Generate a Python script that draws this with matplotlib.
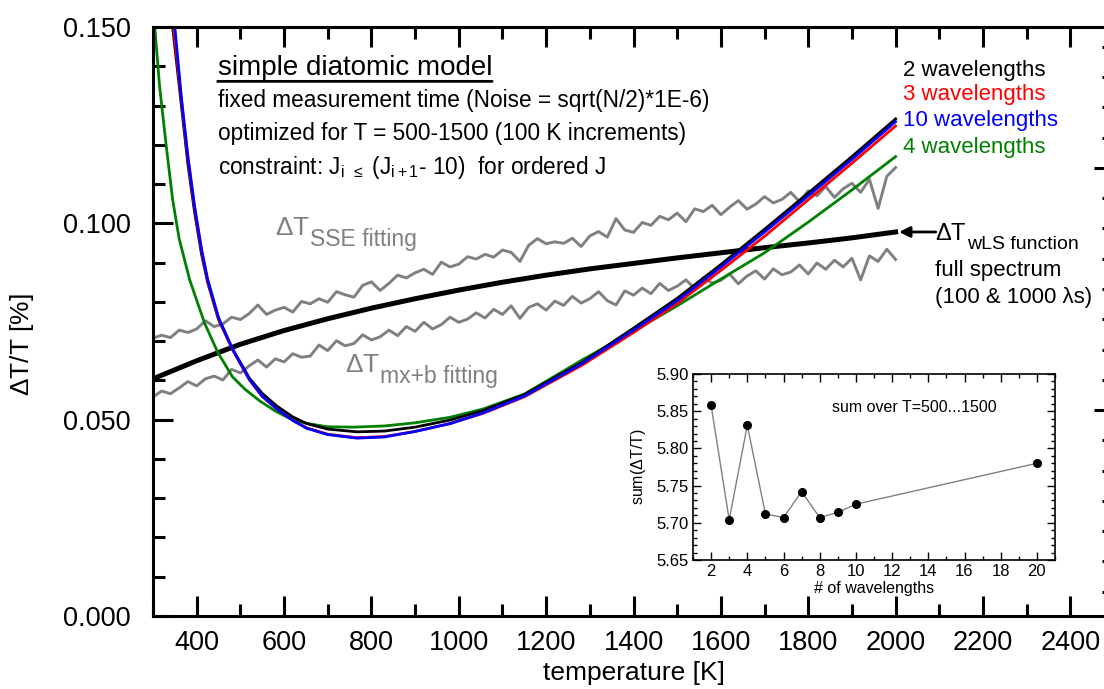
import numpy as np
import matplotlib
matplotlib.use("Agg")
from matplotlib import pyplot as plt
from matplotlib.ticker import MultipleLocator, FormatStrFormatter

plt.rcParams['font.family'] = ['Liberation Sans', 'DejaVu Sans']
plt.rcParams['mathtext.fontset'] = 'custom'
plt.rcParams['mathtext.rm'] = 'Liberation Sans'
plt.rcParams['mathtext.it'] = 'Liberation Sans:italic'

# =============================================================================
# data
# =============================================================================
T_blue = [350, 365, 380, 395, 411, 425, 450, 482, 521, 550, 583, 620, 652, 700, 767,
          830, 900, 980, 1055, 1150, 1284, 1400, 1500, 1600, 1700, 1800, 1900, 2000]
dT_10wl = [.1500, .1320, .1170, .1045, .0935, .0858, .0760, .0680, .0602, .0560, .0528,
           .0498, .0478, .0462, .0453, .0456, .0470, .0490, .0517, .0560, .0644, .0728,
           .0803, .0889, .0978, .1070, .1163, .1259]

T_red = [347, 365, 380, 395, 411, 425, 450, 482, 521, 550, 583, 620, 652, 700, 767,
         830, 900, 980, 1055, 1150, 1284, 1400, 1500, 1600, 1700, 1800, 1900, 2000]
dT_3wl = [.1500, .1312, .1163, .1040, .0930, .0854, .0757, .0678, .0601, .0559, .0528,
          .0498, .0479, .0463, .0454, .0457, .0470, .0490, .0516, .0558, .0640, .0722,
          .0796, .0880, .0967, .1060, .1153, .1248]

T_black = [345, 365, 380, 395, 411, 425, 450, 482, 521, 550, 583, 620, 652, 700, 767,
           830, 900, 980, 1055, 1150, 1284, 1400, 1500, 1600, 1700, 1800, 1900, 2000]
dT_2wl = [.1500, .1300, .1150, .1030, .0922, .0850, .0755, .0680, .0605, .0567, .0535,
          .0507, .0490, .0476, .0469, .0471, .0481, .0499, .0523, .0564, .0647, .0733,
          .0809, .0895, .0985, .1077, .1170, .1266]

T_green = [304, 315, 330, 345, 360, 384, 418, 448, 482, 510, 544, 580, 613, 650, 698,
           760, 830, 900, 980, 1055, 1150, 1284, 1400, 1500, 1600, 1700, 1800, 1900, 2000]
dT_4wl = [.1500, .1350, .1200, .1060, .0960, .0856, .0746, .0672, .0609, .0578, .0548,
          .0522, .0503, .0491, .0482, .0481, .0484, .0492, .0506, .0527, .0565, .0653,
          .0725, .0790, .0858, .0925, .1003, .1085, .1170]

T_wls = [300, 400, 500, 600, 700, 800, 900, 1000, 1100, 1200, 1300, 1400, 1500,
         1600, 1700, 1800, 1900, 2000]
dT_wls = [.0604, .0650, .0692, .0727, .0757, .0784, .0808, .0830, .0850, .0868, .0884,
          .0898, .0912, .0925, .0938, .0950, .0963, .0978]

T_fit = np.arange(300, 2001, 20)
dT_sse = [.0708, .0715, .0709, .0728, .0722, .0731, .0752, .0737, .0744, .0761,
          .0755, .0770, .0792, .0768, .0779, .0786, .0774, .0801, .0795, .0808,
          .0799, .0826, .0818, .0812, .0842, .0851, .0829, .0847, .0868, .0861,
          .0874, .0883, .0870, .0901, .0889, .0896, .0915, .0909, .0921, .0914,
          .0932, .0926, .0903, .0944, .0961, .0948, .0953, .0949, .0962, .0941,
          .0968, .0979, .0965, .1012, .0983, .0977, .1002, .0995, .1018, .1009,
          .1026, .1004, .1037, .1030, .1046, .1022, .1041, .1058, .1036, .1049,
          .1068, .1052, .1061, .1079, .1055, .1083, .1070, .1094, .1066, .1088,
          .1102, .1079, .1112, .1038, .1120, .1142]
dT_mxb = [.0558, .0573, .0566, .0581, .0597, .0586, .0604, .0611, .0601, .0628,
          .0619, .0637, .0652, .0634, .0655, .0647, .0668, .0659, .0662, .0690,
          .0676, .0701, .0688, .0694, .0716, .0703, .0711, .0728, .0714, .0737,
          .0725, .0748, .0731, .0742, .0761, .0748, .0756, .0772, .0759, .0781,
          .0768, .0790, .0758, .0786, .0795, .0779, .0802, .0791, .0814, .0797,
          .0808, .0826, .0803, .0792, .0828, .0817, .0835, .0821, .0847, .0829,
          .0840, .0856, .0834, .0862, .0848, .0855, .0871, .0846, .0866, .0879,
          .0858, .0884, .0869, .0876, .0894, .0871, .0899, .0883, .0906, .0889,
          .0911, .0856, .0917, .0903, .0934, .0908]

# inset: sum over T
n_wl = [2, 3, 4, 5, 6, 7, 8, 9, 10, 20]
sum_dT = [5.858, 5.704, 5.831, 5.712, 5.707, 5.742, 5.707, 5.714, 5.725, 5.780]

# =============================================================================
# main plot
# =============================================================================
W, H = 1104, 689
fig = plt.figure(figsize=(W / 100, H / 100), dpi=100)
ax = fig.add_axes([153 / W, 1 - 616 / H, (1114 - 153) / W, (616 - 27) / H])

ax.plot(T_fit, dT_sse, color='#808080', lw=2.1)
ax.plot(T_fit, dT_mxb, color='#808080', lw=2.1)
ax.plot(T_wls, dT_wls, color='k', lw=3.6)
ax.plot(T_green, dT_4wl, color='#008000', lw=2.0)
ax.plot(T_black, dT_2wl, color='k', lw=2.0)
ax.plot(T_red, dT_3wl, color='#ff0000', lw=2.0)
ax.plot(T_blue, dT_10wl, color='#0000ff', lw=2.0)

ax.set_xlim(300, 2500)
ax.set_ylim(0, 0.150)
ax.xaxis.set_major_locator(MultipleLocator(200))
ax.xaxis.set_minor_locator(MultipleLocator(100))
ax.yaxis.set_major_locator(MultipleLocator(0.05))
ax.yaxis.set_minor_locator(MultipleLocator(0.01))
ax.yaxis.set_major_formatter(FormatStrFormatter('%.3f'))
ax.tick_params(which='both', direction='in', width=2.2, top=True, right=False,
               labelsize=19.5)
ax.tick_params(axis='y', pad=16)
ax.tick_params(axis='x', pad=10)
ax.tick_params(which='major', length=14.5)
ax.tick_params(which='minor', length=8.5)
for s in ax.spines.values():
    s.set_linewidth(2.2)

ax.set_xlabel('temperature [K]', fontsize=19, labelpad=4)
ax.set_ylabel(r'$\Delta$T/T [%]', fontsize=19)
ax.yaxis.set_label_coords(-0.122, 0.46)

# right hand axis (labels are off the canvas)
tw = ax.twinx()
tw.set_ylim(0.1488, 2.5826)
tw.yaxis.set_major_locator(MultipleLocator(1))
tw.yaxis.set_minor_locator(MultipleLocator(0.125))
tw.tick_params(which='both', direction='in', width=2.2, labelright=False)
tw.tick_params(which='major', length=14.5)
tw.tick_params(which='minor', length=8.5)

# texts
t = ax.text(448, 0.1396, 'simple diatomic model', fontsize=20, va='center')
ax.annotate('', xy=(0, -0.02), xytext=(1, -0.02), xycoords=t, textcoords=t,
            arrowprops=dict(arrowstyle='-', lw=2, color='k', shrinkA=0, shrinkB=0))
ax.text(448, 0.1312, 'fixed measurement time (Noise = sqrt(N/2)*1E-6)', fontsize=16.3, va='center')
ax.text(448, 0.1228, 'optimized for T = 500-1500 (100 K increments)', fontsize=16.3, va='center')
ax.text(448, 0.1141, r'constraint: J$_{\mathregular{i}}$ $_{\leq}$ (J$_{\mathregular{i+1}}$- 10)  for ordered J',
        fontsize=16.3, va='center')


def sub_label(x, y, main, sub, color, size=19, subsize=16.5):
    m = ax.text(x, y, main, fontsize=size, color=color, va='center')
    ax.annotate(sub, xy=(1.0, 0.02), xycoords=m, fontsize=subsize, color=color,
                va='center', ha='left')
    return m


sub_label(579, 0.0988, r'$\Delta$T', 'SSE fitting', '#808080')
sub_label(739, 0.0639, r'$\Delta$T', 'mx+b fitting', '#808080')
sub_label(2090, 0.0972, r'$\Delta$T', 'wLS function', 'k', size=17, subsize=14)
ax.text(2090, 0.0881, 'full spectrum', fontsize=16, va='center')
ax.text(2090, 0.0810, '(100 & 1000 λs)', fontsize=16, va='center')
ax.annotate('', xy=(2008, 0.0978), xytext=(2092, 0.0978),
            arrowprops=dict(arrowstyle='-|>', color='k', lw=2, mutation_scale=16,
                            shrinkA=0, shrinkB=0))

ax.text(2017, 0.1390, '2 wavelengths', fontsize=16, color='k', va='center')
ax.text(2017, 0.1327, '3 wavelengths', fontsize=16, color='#ff0000', va='center')
ax.text(2017, 0.1263, '10 wavelengths', fontsize=16, color='#0000ff', va='center')
ax.text(2017, 0.1194, '4 wavelengths', fontsize=16, color='#008000', va='center')

# =============================================================================
# inset
# =============================================================================
ins = fig.add_axes([693 / W, 1 - 560 / H, (1055 - 693) / W, (560 - 374) / H])
ins.plot(n_wl, sum_dT, color='#808080', lw=1, marker='o', ms=5.5,
         mfc='k', mec='k')
ins.set_xlim(1, 21)
ins.set_ylim(5.65, 5.90)
ins.xaxis.set_major_locator(MultipleLocator(2))
ins.xaxis.set_minor_locator(MultipleLocator(1))
ins.yaxis.set_major_locator(MultipleLocator(0.05))
ins.yaxis.set_minor_locator(MultipleLocator(0.01))
ins.yaxis.set_major_formatter(FormatStrFormatter('%.2f'))
ins.tick_params(which='both', direction='in', top=True, right=True, width=1,
                labelsize=12, pad=3)
ins.tick_params(which='major', length=6)
ins.tick_params(which='minor', length=3)
for s in ins.spines.values():
    s.set_linewidth(1.2)
ins.set_xlabel('# of wavelengths', fontsize=11.5, labelpad=1)
ins.set_ylabel(r'sum($\Delta$T/T)', fontsize=11.5, labelpad=6)
ins.text(0.84, 0.82, 'sum over T=500...1500', fontsize=11.5, transform=ins.transAxes,
         ha='right', va='center')

fig.savefig('out.png', dpi=100)
